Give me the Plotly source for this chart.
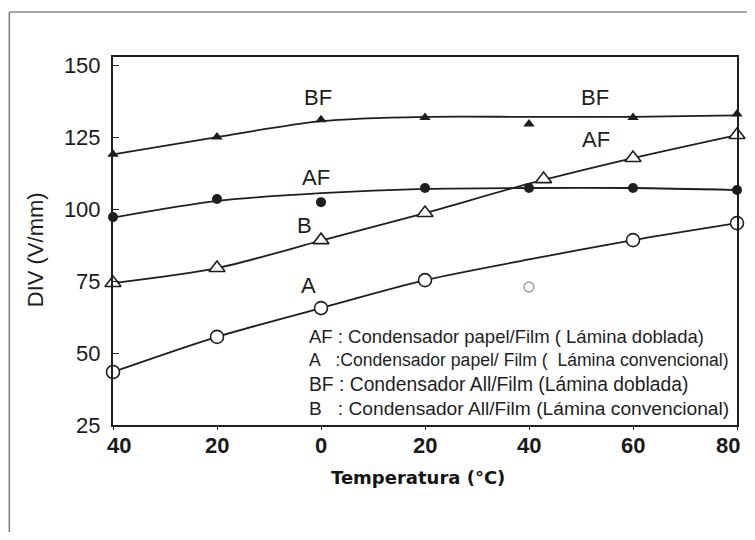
import plotly.graph_objects as go

# ---- data ----
temps = [-40, -20, 0, 20, 40, 60, 80]
tick_text = ["40", "20", "0", "20", "40", "60", "80"]
y_ticks = [25, 50, 75, 100, 125, 150]

# measured points (markers)
bf_x = [-40, -20, 0, 20, 40, 60, 80]
bf_y = [119.0, 125.0, 131.0, 131.8, 129.5, 131.8, 133.0]
af_x = [-40, -20, 0, 20, 40, 60, 80]
af_y = [97.2, 103.5, 102.4, 107.3, 107.3, 107.3, 106.6]
b_x = [-40, -20, 0, 20, 42.8, 60, 80]
b_y = [74.3, 79.5, 89.2, 98.6, 110.4, 117.7, 125.7]
a_x = [-40, -20, 0, 20, 60, 80]
a_y = [43.4, 55.6, 65.6, 75.3, 89.2, 95.1]
a_out_x = [40]
a_out_y = [72.9]

# fitted curves read at each temperature
bf_fit = [119.0, 125.0, 130.5, 132.0, 132.0, 132.0, 132.5]
af_fit = [97.0, 102.8, 105.5, 107.0, 107.3, 107.3, 106.6]
b_fit = [74.3, 79.5, 89.0, 98.6, 108.8, 117.7, 125.7]
a_fit = [43.4, 55.6, 65.6, 75.3, 82.5, 89.2, 95.1]

# curve labels
lab_text = ["BF", "BF", "AF", "AF", "B", "A"]
lab_x = [-0.5, 52.6, -1.0, 52.8, -3.2, -2.4]
lab_y = [138.6, 138.9, 111.1, 124.0, 94.4, 73.3]

legend_lines = [
    "AF : Condensador papel/Film ( Lámina doblada)",
    "A\u00a0\u00a0\u00a0:Condensador papel/ Film (\u00a0 Lámina convencional)",
    "BF : Condensador All/Film (Lámina doblada)",
    "B\u00a0\u00a0\u00a0: Condensador All/Film (Lámina convencional)",
]
legend_sizes = [18.5, 17.6, 19.3, 19.2]

INK = "#1e1e1e"
OFF = 8                      # page body margin
PL, PR, PT, PB = 113, 739, 57, 425   # plot box in page pixels
W, H = 755 - 2 * OFF, 540 - 2 * OFF
pw, ph = PR - PL, PB - PT


def px(xp):
    return (xp - PL) / pw


def py(yp):
    return (PB - yp) / ph


fig = go.Figure()

for fx in [bf_fit, af_fit, b_fit, a_fit]:
    fig.add_trace(go.Scatter(x=temps, y=fx, mode="lines",
                             line=dict(color=INK, width=1.8, shape="spline", smoothing=0.8),
                             hoverinfo="skip", showlegend=False, cliponaxis=False))

fig.add_trace(go.Scatter(x=bf_x, y=bf_y, mode="markers", showlegend=False, cliponaxis=False,
                         marker=dict(symbol="triangle-up", size=10, color=INK)))
fig.add_trace(go.Scatter(x=af_x, y=af_y, mode="markers", showlegend=False, cliponaxis=False,
                         marker=dict(symbol="circle", size=10, color=INK)))
fig.add_trace(go.Scatter(x=b_x, y=b_y, mode="markers", showlegend=False, cliponaxis=False,
                         marker=dict(symbol="triangle-up", size=14, color="white",
                                     line=dict(color=INK, width=1.6))))
fig.add_trace(go.Scatter(x=a_x, y=a_y, mode="markers", showlegend=False, cliponaxis=False,
                         marker=dict(symbol="circle", size=13, color="white",
                                     line=dict(color=INK, width=1.6))))
fig.add_trace(go.Scatter(x=a_out_x, y=a_out_y, mode="markers", showlegend=False, cliponaxis=False,
                         marker=dict(symbol="circle", size=10, color="white",
                                     line=dict(color="#9a9a9a", width=1.4))))

annotations = []
for t, x, y in zip(lab_text, lab_x, lab_y):
    annotations.append(dict(x=x, y=y, xref="x", yref="y", text=t, showarrow=False,
                            font=dict(family="Liberation Sans, Arial", size=22, color=INK)))

# x tick labels (end labels nudged inward as in the reference)
for i, (v, t) in enumerate(zip(temps, tick_text)):
    shift = 6 if i == 0 else (-9 if i == len(temps) - 1 else 0)
    annotations.append(dict(x=v, y=py(445), xref="x", yref="paper", text="<b>" + t + "</b>",
                            showarrow=False, xanchor="center", yanchor="middle", xshift=shift,
                            font=dict(family="Liberation Sans, Arial", size=22, color="#1a1a1a")))

leg_y = [336, 360, 384, 408]
for t, yy, fs in zip(legend_lines, leg_y, legend_sizes):
    annotations.append(dict(x=px(308), y=py(yy), xref="paper", yref="paper", text=t,
                            showarrow=False, xanchor="left", yanchor="middle",
                            font=dict(family="Liberation Sans, Arial", size=fs, color=INK)))

annotations.append(dict(x=px(419), y=py(477), xref="paper", yref="paper",
                        text="<b>Temperatura (°C)</b>", showarrow=False,
                        xanchor="center", yanchor="middle",
                        font=dict(family="DejaVu Sans", size=18, color="#151515")))
annotations.append(dict(x=px(36), y=py(250), xref="paper", yref="paper",
                        text="DIV (V/mm)", showarrow=False, textangle=-90,
                        xanchor="center", yanchor="middle",
                        font=dict(family="Liberation Sans, Arial", size=22, color=INK)))

shapes = [
    dict(type="line", xref="paper", yref="paper", x0=px(9), x1=px(760), y0=py(12), y1=py(12),
         line=dict(color="#8a8a8a", width=1.5)),
    dict(type="line", xref="paper", yref="paper", x0=px(9), x1=px(9), y0=py(12), y1=py(545),
         line=dict(color="#7a7a7a", width=1.5)),
]

fig.update_layout(
    width=W, height=H,
    margin=dict(l=PL - OFF, r=(OFF + W) - PR, t=PT - OFF, b=(OFF + H) - PB, pad=0),
    paper_bgcolor="white", plot_bgcolor="white",
    annotations=annotations, shapes=shapes,
    xaxis=dict(range=[-40, 80], tickvals=temps, showticklabels=False,
               showgrid=False, zeroline=False, showline=True, mirror=True,
               linecolor=INK, linewidth=2, ticks="outside", ticklen=3, tickcolor=INK,
               title=None),
    yaxis=dict(range=[25.0, 152.8], tickvals=y_ticks,
               showgrid=False, zeroline=False, showline=True, mirror=True,
               linecolor=INK, linewidth=2, ticks="inside", ticklen=6, tickcolor=INK,
               ticklabelstandoff=6,
               tickfont=dict(family="Liberation Sans, Arial", size=22, color="#1a1a1a"),
               title=None),
    font=dict(family="Liberation Sans, Arial"),
)
fig.update_yaxes(tickprefix="<b>", ticksuffix="</b>")

fig.write_html("out.html")
